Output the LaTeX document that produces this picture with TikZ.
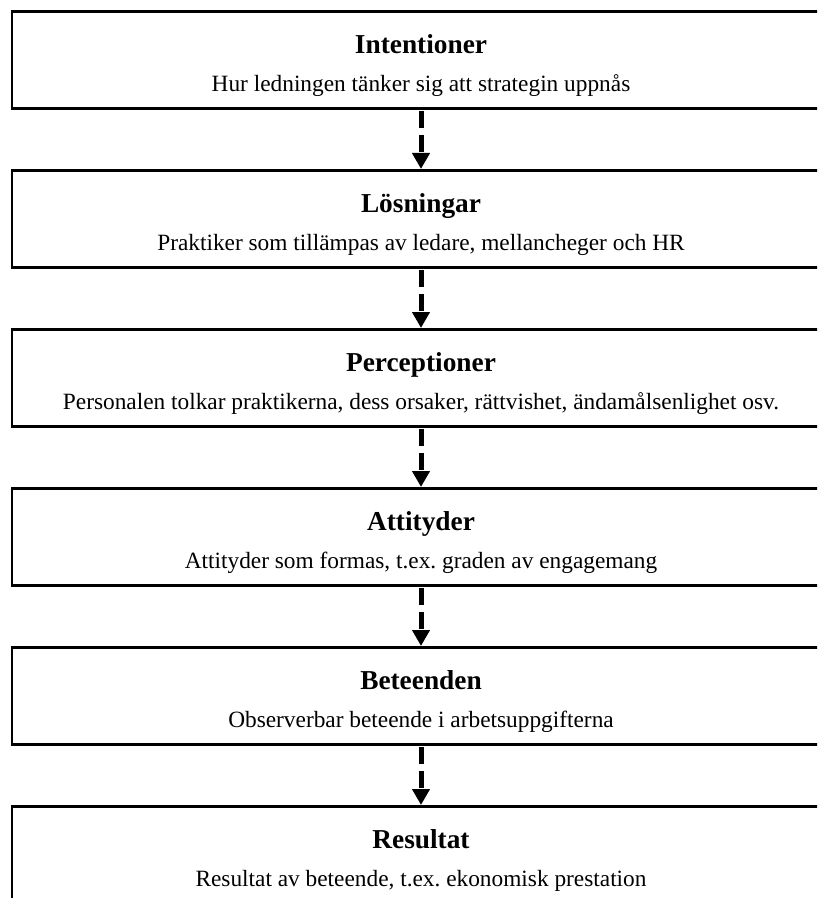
\documentclass[tikz,border=0pt]{standalone}
\usepackage{fontspec}
\setmainfont{Liberation Serif}
\usetikzlibrary{arrows.meta,positioning}
\frenchspacing

\begin{document}
\begin{tikzpicture}[
    x=0.75pt, y=-0.75pt,
    node distance=44.5pt,
    stage/.style={draw, line width=2pt, minimum width=613.5pt, inner xsep=0pt, inner ysep=0pt, text height=60pt, text depth=12.75pt, align=center, font=\fontsize{17.5}{21}\selectfont},
    line/.style={-{Triangle[length=12pt,width=12.75pt]}, line width=3.75pt, dash pattern=on 12.75pt off 5.25pt, shorten <=1.2pt}
]
\clip (0,0) rectangle (817,898);

% The six stages, stacked from top to bottom.
\node[stage, anchor=north] (intent) at (421,10) {{\fontsize{20.5}{21}\selectfont\bfseries Intentioner}\\[7.5pt]Hur ledningen tänker sig att strategin uppnås};
\node[stage, below=of intent] (losn) {{\fontsize{20.5}{21}\selectfont\bfseries Lösningar}\\[7.5pt]Praktiker som tillämpas av ledare, mellancheger och HR};
\node[stage, below=of losn] (percep) {{\fontsize{20.5}{21}\selectfont\bfseries Perceptioner}\\[7.5pt]Personalen tolkar praktikerna, dess orsaker, rättvishet, ändamålsenlighet osv.};
\node[stage, below=of percep] (attit) {{\fontsize{20.5}{21}\selectfont\bfseries Attityder}\\[7.5pt]Attityder som formas, t.ex. graden av engagemang};
\node[stage, below=of attit] (beteende) {{\fontsize{20.5}{21}\selectfont\bfseries Beteenden}\\[7.5pt]Observerbar beteende i arbetsuppgifterna};
\node[stage, below=of beteende] (result) {{\fontsize{20.5}{21}\selectfont\bfseries Resultat}\\[7.5pt]Resultat av beteende, t.ex. ekonomisk prestation};

% Dashed arrows between the stages.
\draw[line] (intent) -- (losn);
\draw[line] (losn) -- (percep);
\draw[line] (percep) -- (attit);
\draw[line] (attit) -- (beteende);
\draw[line] (beteende) -- (result);

\end{tikzpicture}
\end{document}
